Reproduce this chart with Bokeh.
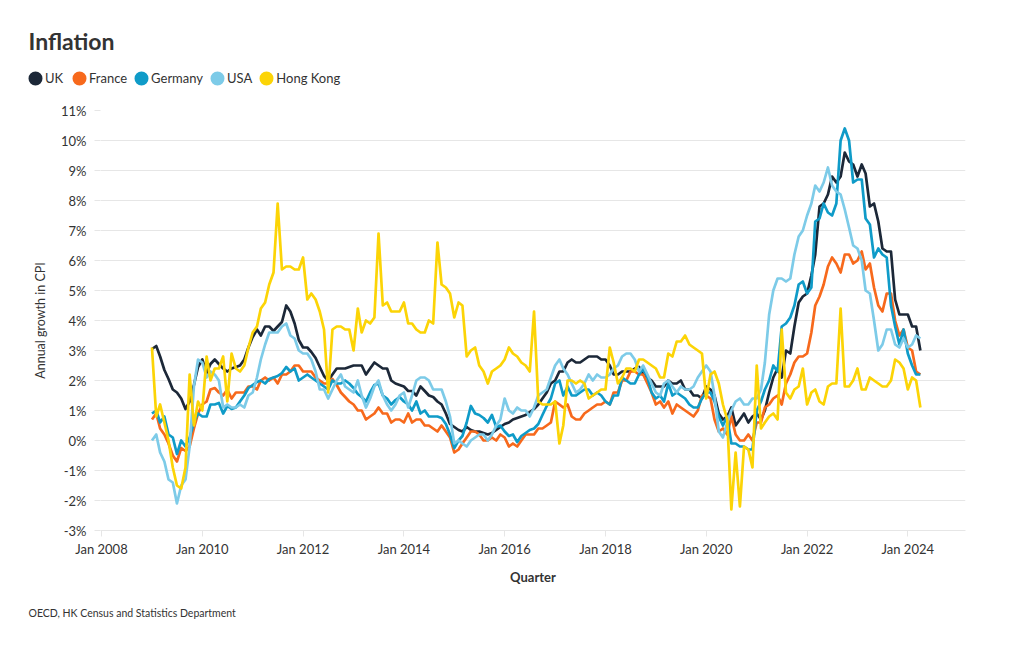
from datetime import datetime
import pandas as pd
from bokeh.plotting import figure
from bokeh.layouts import column
from bokeh.models import (Range1d, FixedTicker, PrintfTickFormatter, DatetimeTickFormatter,
                          Legend, LegendItem, Title, Label, ColumnDataSource)
from bokeh.embed import file_html
from bokeh.resources import INLINE

FONT = "Lato"

# Monthly annual CPI growth (%), Jan 2009 .. Apr 2024
uk = [
    3.05, 3.15, 2.8, 2.35, 2.05, 1.7, 1.6, 1.4, 1.05, 1.3, 1.85, 2.45,
    2.7, 2.25, 2.55, 2.7, 2.55, 2.4, 2.3, 2.4, 2.45, 2.5, 2.7, 3.1,
    3.45, 3.7, 3.5, 3.8, 3.8, 3.65, 3.8, 3.95, 4.5, 4.3, 3.9, 3.35,
    3.1, 3.1, 2.95, 2.75, 2.45, 2.15, 2.0, 2.2, 2.4, 2.4, 2.4, 2.45,
    2.5, 2.5, 2.5, 2.2, 2.4, 2.6, 2.5, 2.4, 2.4, 2.0, 1.9, 1.85,
    1.8, 1.65, 1.65, 1.5, 1.8, 1.65, 1.5, 1.45, 1.3, 1.2, 0.9, 0.55,
    0.45, 0.35, 0.3, 0.45, 0.35, 0.3, 0.3, 0.25, 0.2, 0.25, 0.35, 0.45,
    0.55, 0.6, 0.7, 0.75, 0.8, 0.85, 0.95, 1.05, 1.2, 1.4, 1.6, 1.9,
    2.0, 2.3, 2.3, 2.6, 2.7, 2.6, 2.6, 2.7, 2.8, 2.8, 2.8, 2.7,
    2.7, 2.5, 2.2, 2.2, 2.3, 2.3, 2.3, 2.4, 2.45, 2.2, 2.1, 2.0,
    1.8, 1.8, 1.8, 2.0, 1.9, 1.9, 2.0, 1.7, 1.7, 1.5, 1.5, 1.4,
    1.8, 1.7, 1.5, 0.9, 0.7, 0.8, 1.1, 0.5, 0.7, 0.9, 0.6, 0.8,
    0.9, 0.7, 1.0, 1.6, 2.1, 2.4, 2.1, 3.0, 2.9, 3.8, 4.6, 4.8,
    4.9, 5.5, 6.2, 7.8, 7.9, 8.2, 8.8, 8.6, 8.8, 9.6, 9.3, 9.2,
    8.8, 9.2, 8.9, 7.8, 7.9, 7.3, 6.4, 6.3, 6.3, 4.7, 4.2, 4.2,
    4.2, 3.8, 3.8, 3.0,
]

france = [
    0.7, 0.9, 0.4, 0.2, -0.1, -0.5, -0.7, -0.25, -0.35, -0.2, 0.4, 0.9,
    1.2, 1.3, 1.7, 1.75, 1.6, 1.5, 1.7, 1.4, 1.6, 1.6, 1.6, 1.8,
    1.8, 1.7, 2.0, 2.1, 2.0, 2.1, 1.9, 2.2, 2.2, 2.3, 2.5, 2.5,
    2.3, 2.3, 2.3, 2.1, 2.0, 1.9, 1.9, 2.05, 1.85, 1.6, 1.45, 1.3,
    1.2, 1.0, 1.0, 0.7, 0.8, 0.9, 1.1, 0.9, 0.9, 0.6, 0.7, 0.7,
    0.6, 0.9, 0.6, 0.7, 0.7, 0.5, 0.5, 0.4, 0.3, 0.5, 0.3, 0.1,
    -0.4, -0.3, -0.1, 0.1, 0.3, 0.3, 0.2, 0.0, 0.0, 0.1, 0.0, 0.2,
    0.1, -0.2, -0.1, -0.2, 0.0, 0.2, 0.2, 0.2, 0.4, 0.4, 0.5, 0.6,
    1.3, 1.2, 1.1, 1.2, 0.8, 0.7, 0.7, 0.9, 1.0, 1.1, 1.2, 1.2,
    1.3, 1.2, 1.6, 1.6, 2.0, 2.0, 2.3, 2.3, 2.2, 2.2, 1.9, 1.6,
    1.2, 1.3, 1.1, 1.3, 0.9, 1.2, 1.1, 1.0, 0.9, 0.8, 1.0, 1.5,
    1.5, 1.4, 0.7, 0.3, 0.4, 0.2, 0.8, 0.2, 0.0, 0.0, 0.2, 0.0,
    0.6, 0.6, 1.1, 1.2, 1.4, 1.5, 1.2, 1.9, 2.2, 2.6, 2.8, 2.8,
    2.9, 3.6, 4.5, 4.8, 5.2, 5.8, 6.1, 5.9, 5.6, 6.2, 6.2, 5.9,
    6.0, 6.3, 5.7, 5.9, 5.1, 4.5, 4.3, 4.9, 4.9, 4.0, 3.5, 3.7,
    3.1, 3.0, 2.3, 2.2,
]

germany = [
    0.9, 1.0, 0.6, 0.8, 0.2, 0.1, -0.45, 0.0, -0.2, 0.1, 0.6, 0.9,
    0.8, 0.8, 1.2, 1.2, 1.25, 0.9, 1.15, 1.05, 1.1, 1.3, 1.5, 1.75,
    1.85, 1.95, 2.0, 1.9, 2.05, 2.1, 2.15, 2.25, 2.45, 2.3, 2.4, 2.0,
    2.1, 2.2, 2.1, 2.0, 1.9, 1.8, 1.7, 2.0, 1.9, 1.9, 2.0, 1.9,
    1.75, 1.55, 1.45, 1.3, 1.6, 1.85, 1.9, 1.5, 1.4, 1.2, 1.35, 1.45,
    1.3, 1.2, 1.0, 1.3, 0.9, 1.0, 0.8, 0.8, 0.8, 0.75, 0.55, 0.2,
    -0.25, 0.0, 0.15, 0.6, 1.15, 0.9, 0.85, 0.75, 0.6, 0.85, 0.45, 0.5,
    0.3, 0.15, 0.2, -0.05, 0.15, 0.25, 0.35, 0.4, 0.55, 0.85, 1.15, 1.4,
    1.9, 2.0, 1.5, 1.8, 1.5, 1.5, 1.6, 1.7, 1.7, 1.5, 1.6, 1.5,
    1.3, 1.2, 1.5, 1.5, 2.1, 2.0, 1.9, 1.9, 2.2, 2.4, 2.1, 1.6,
    1.4, 1.5, 1.3, 1.9, 1.5, 1.6, 1.5, 1.4, 1.2, 1.1, 1.1, 1.4,
    1.6, 1.6, 1.3, 0.8, 0.5, 0.8, -0.1, -0.1, -0.2, -0.2, -0.3, -0.3,
    1.0, 1.3, 1.7, 2.0, 2.5, 2.3, 3.8, 3.9, 4.1, 4.5, 5.2, 5.3,
    4.9, 5.1, 7.3, 7.4, 7.9, 7.6, 7.5, 7.9, 10.0, 10.4, 10.0, 8.6,
    8.7, 8.7, 7.4, 7.2, 6.1, 6.4, 6.2, 6.1, 4.5, 3.8, 3.2, 3.7,
    2.9, 2.5, 2.2, 2.2,
]

usa = [
    0.0, 0.2, -0.4, -0.7, -1.3, -1.4, -2.1, -1.5, -1.3, -0.2, 1.8, 2.7,
    2.6, 2.1, 2.3, 2.2, 2.0, 1.1, 1.2, 1.1, 1.1, 1.2, 1.1, 1.5,
    1.6, 2.1, 2.7, 3.2, 3.6, 3.6, 3.6, 3.8, 3.9, 3.5, 3.4, 3.0,
    2.9, 2.9, 2.7, 2.3, 1.7, 1.7, 1.4, 1.7, 2.0, 2.2, 1.8, 1.7,
    1.6, 2.0, 1.5, 1.1, 1.4, 1.8, 2.0, 1.5, 1.2, 1.0, 1.2, 1.5,
    1.6, 1.1, 1.5, 2.0, 2.1, 2.1, 2.0, 1.7, 1.7, 1.7, 1.3, 0.8,
    -0.1, 0.0, -0.1, -0.2, 0.0, 0.1, 0.2, 0.2, 0.0, 0.2, 0.5, 0.7,
    1.4, 1.0, 0.9, 1.1, 1.0, 1.0, 0.8, 1.1, 1.5, 1.6, 1.7, 2.1,
    2.5, 2.7, 2.4, 2.2, 1.9, 1.6, 1.7, 1.9, 2.2, 2.0, 2.2, 2.1,
    2.1, 2.2, 2.4, 2.5, 2.8, 2.9, 2.9, 2.7, 2.3, 2.5, 2.2, 1.9,
    1.6, 1.5, 1.9, 2.0, 1.8, 1.6, 1.8, 1.7, 1.7, 1.8, 2.1, 2.3,
    2.5, 2.3, 1.5, 0.3, 0.1, 0.6, 1.0, 1.3, 1.4, 1.2, 1.2, 1.4,
    1.4, 1.7, 2.6, 4.2, 5.0, 5.4, 5.4, 5.3, 5.4, 6.2, 6.8, 7.0,
    7.5, 7.9, 8.5, 8.3, 8.6, 9.1, 8.5, 8.3, 8.2, 7.7, 7.1, 6.5,
    6.4, 6.0, 5.0, 4.9, 4.0, 3.0, 3.2, 3.7, 3.7, 3.2, 3.1, 3.4,
    3.1, 3.2, 3.5, 3.4,
]

hong_kong = [
    3.1, 0.8, 1.2, 0.6, 0.0, -0.9, -1.5, -1.6, -0.9, 2.2, 0.5, 1.3,
    1.0, 2.8, 2.0, 2.4, 2.4, 2.8, 1.3, 2.9, 2.4, 2.3, 2.5, 3.1,
    3.6, 3.8, 4.4, 4.6, 5.2, 5.6, 7.9, 5.7, 5.8, 5.8, 5.7, 5.7,
    6.1, 4.7, 4.9, 4.7, 4.3, 3.7, 1.6, 3.7, 3.8, 3.8, 3.7, 3.7,
    3.0, 4.4, 3.6, 4.0, 3.9, 4.1, 6.9, 4.5, 4.6, 4.3, 4.3, 4.3,
    4.6, 3.9, 3.9, 3.7, 3.6, 3.6, 4.0, 3.9, 6.6, 5.2, 5.1, 4.9,
    4.1, 4.6, 4.5, 2.8, 3.0, 3.1, 2.5, 2.3, 1.9, 2.3, 2.4, 2.5,
    2.7, 3.1, 2.9, 2.8, 2.6, 2.5, 2.3, 4.3, 1.3, 1.2, 1.2, 1.2,
    1.3, -0.1, 0.5, 2.0, 2.0, 1.9, 2.0, 1.9, 1.4, 1.5, 1.6, 1.7,
    1.7, 3.1, 2.6, 1.9, 2.1, 2.4, 2.4, 2.3, 2.7, 2.7, 2.6, 2.5,
    2.4, 2.1, 2.1, 2.9, 2.8, 3.3, 3.3, 3.5, 3.2, 3.1, 3.0, 2.9,
    1.4, 2.2, 2.3, 1.9, 1.2, 0.7, -2.3, -0.4, -2.2, -0.2, -0.3, -0.9,
    2.5, 0.4, 0.6, 0.8, 0.9, 0.7, 3.7, 1.6, 1.4, 1.7, 1.8, 2.4,
    1.2, 1.6, 1.7, 1.3, 1.2, 1.8, 1.9, 1.9, 4.4, 1.8, 1.8, 2.0,
    2.4, 1.7, 1.7, 2.1, 2.0, 1.9, 1.8, 1.8, 2.0, 2.7, 2.6, 2.4,
    1.7, 2.1, 2.0, 1.1,
]

series_names = ["UK", "France", "Germany", "USA", "Hong Kong"]
series_colors = ["#1c2838", "#f7691c", "#0f9bc8", "#7dcbe8", "#fcd406"]
series_values = [uk, france, germany, usa, hong_kong]

x_tick_years = [2008, 2010, 2012, 2014, 2016, 2018, 2020, 2022, 2024]
y_ticks = list(range(-3, 12))

dates = pd.date_range("2009-01-01", periods=len(uk), freq="MS")

# ---------- header (title + legend) ----------
head = figure(width=1020, height=100, output_backend="svg", toolbar_location=None,
              title=None, x_axis_location=None, y_axis_location=None,
              x_range=Range1d(0, 1), y_range=Range1d(0, 1),
              min_border=0, min_border_left=0, min_border_right=0,
              min_border_top=0, min_border_bottom=0)
head.outline_line_color = None
head.grid.visible = False
head.background_fill_color = "white"
head.border_fill_color = "white"

items = []
for name, col in zip(series_names, series_colors):
    # legend swatch only: a NaN point draws nothing on the canvas
    dummy = head.scatter(x=[float("nan")], y=[float("nan")], marker="circle", size=8,
                         fill_color=col, line_color=col, line_width=6)
    items.append(LegendItem(label=name, renderers=[dummy]))

legend = Legend(items=items, orientation="horizontal", location=(25, 12),
                glyph_width=20, glyph_height=20, label_standoff=0, spacing=4,
                padding=0, margin=0, border_line_color=None, background_fill_alpha=0,
                label_text_font=FONT, label_text_font_size="13px", label_text_color="#333333")
head.add_layout(legend, "center")

head.add_layout(Label(x=28, y=60, x_units="screen", y_units="screen", text="Inflation",
                      text_baseline="middle", text_align="left", text_font=FONT,
                      text_font_size="23px", text_font_style="bold", text_color="#333333"))

# ---------- main chart ----------
p = figure(width=1020, height=550, x_axis_type="datetime", output_backend="svg",
           toolbar_location=None, title=None,
           x_range=Range1d(datetime(2007, 12, 25), datetime(2025, 2, 22)),
           y_range=Range1d(-3, 11),
           min_border_left=100, min_border_right=55,
           min_border_top=10, min_border_bottom=120)
p.outline_line_color = None
p.background_fill_color = "white"
p.border_fill_color = "white"

for name, col, vals in zip(series_names, series_colors, series_values):
    src = ColumnDataSource(dict(x=dates, y=vals))
    p.line("x", "y", source=src, line_color=col, line_width=2.7, line_join="round")

p.xaxis.ticker = FixedTicker(ticks=[pd.Timestamp(f"{y}-01-01").value // 10**6 for y in x_tick_years])
p.xaxis.formatter = DatetimeTickFormatter(years="%b %Y", months="%b %Y", days="%b %Y",
                                          hours="%b %Y", minutes="%b %Y", seconds="%b %Y",
                                          milliseconds="%b %Y", microseconds="%b %Y",
                                          minsec="%b %Y", hourmin="%b %Y")
p.xaxis.axis_label = "Quarter"
p.xaxis.axis_label_text_font = FONT
p.xaxis.axis_label_text_font_style = "bold"
p.xaxis.axis_label_text_font_size = "13px"
p.xaxis.axis_label_text_color = "#333333"
p.xaxis.axis_label_standoff = 9
p.xaxis.axis_line_color = "#e6e6e6"
p.xaxis.major_tick_line_color = "#e6e6e6"
p.xaxis.major_tick_out = 6
p.xaxis.major_tick_in = 0
p.xaxis.minor_tick_line_color = None
p.xaxis.major_label_text_font = FONT
p.xaxis.major_label_text_font_size = "13px"
p.xaxis.major_label_text_color = "#333333"
p.xaxis.major_label_standoff = 4

p.yaxis.ticker = FixedTicker(ticks=y_ticks)
p.yaxis.formatter = PrintfTickFormatter(format="%d%%")
p.yaxis.axis_label = "Annual growth in CPI"
p.yaxis.axis_label_text_font = FONT
p.yaxis.axis_label_text_font_style = "normal"
p.yaxis.axis_label_text_font_size = "12.5px"
p.yaxis.axis_label_text_color = "#333333"
p.yaxis.axis_label_standoff = 10
p.yaxis.axis_line_color = None
p.yaxis.major_tick_line_color = "#e6e6e6"
p.yaxis.major_tick_out = 6
p.yaxis.major_tick_in = 0
p.yaxis.minor_tick_line_color = None
p.yaxis.major_label_text_font = FONT
p.yaxis.major_label_text_font_size = "13px"
p.yaxis.major_label_text_color = "#333333"
p.yaxis.major_label_standoff = 8

p.xgrid.visible = False
p.ygrid.ticker = FixedTicker(ticks=y_ticks)
p.ygrid.grid_line_color = "#e6e6e6"

p.add_layout(Title(text="OECD, HK Census and Statistics Department", align="left", offset=-72,
                   standoff=35, text_font=FONT, text_font_size="10.5px", text_font_style="normal",
                   text_color="#333333"), "below")

layout = column(column(head), p, spacing=0)
open("out.html", "w").write(file_html(layout, INLINE))
